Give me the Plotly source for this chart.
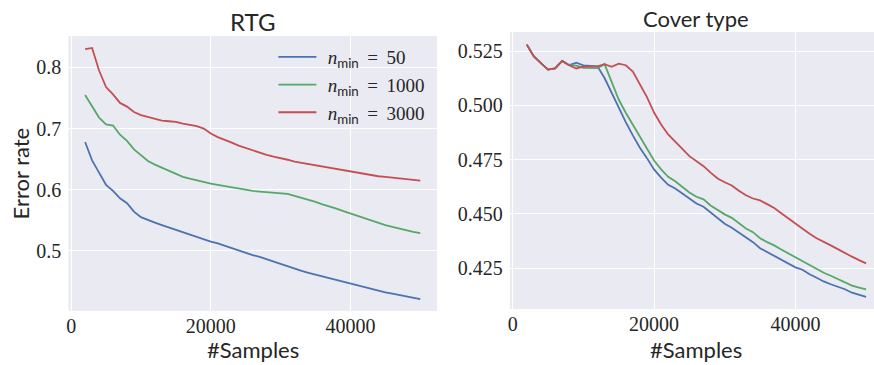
import plotly.graph_objects as go

# Sample counts shared by every curve
samples = list(range(2000, 50001, 1000))

# RTG error rates for each n_min setting
rtg_n50 = [0.678, 0.648, 0.628, 0.608, 0.598, 0.586, 0.578, 0.564, 0.555, 0.550,
           0.546, 0.542, 0.538, 0.534, 0.530, 0.526, 0.522, 0.519, 0.515, 0.512,
           0.508, 0.504, 0.501, 0.497, 0.493, 0.490, 0.486, 0.482, 0.478, 0.474,
           0.470, 0.467, 0.464, 0.461, 0.458, 0.455, 0.452, 0.449, 0.446, 0.443,
           0.440, 0.437, 0.434, 0.432, 0.430, 0.428, 0.426, 0.424, 0.421]
rtg_n1000 = [0.755, 0.736, 0.718, 0.707, 0.705, 0.690, 0.680, 0.666, 0.656, 0.647,
             0.641, 0.636, 0.631, 0.627, 0.621, 0.618, 0.615, 0.612, 0.610, 0.608,
             0.606, 0.603, 0.602, 0.600, 0.598, 0.597, 0.596, 0.596, 0.595, 0.593,
             0.590, 0.587, 0.583, 0.580, 0.576, 0.573, 0.569, 0.565, 0.561, 0.557,
             0.553, 0.549, 0.546, 0.542, 0.539, 0.536, 0.534, 0.531, 0.529]
rtg_n3000 = [0.830, 0.832, 0.795, 0.768, 0.756, 0.742, 0.736, 0.727, 0.722, 0.719,
             0.716, 0.713, 0.712, 0.711, 0.708, 0.706, 0.704, 0.700, 0.692, 0.686,
             0.682, 0.677, 0.672, 0.668, 0.664, 0.660, 0.657, 0.654, 0.652, 0.649,
             0.646, 0.644, 0.641, 0.640, 0.638, 0.636, 0.634, 0.632, 0.630, 0.627,
             0.625, 0.624, 0.622, 0.621, 0.620, 0.618, 0.617, 0.616, 0.615]

# Cover type error rates for each n_min setting
cov_n50 = [0.5280, 0.5225, 0.5195, 0.5165, 0.5170, 0.5205, 0.5185, 0.5197, 0.5184, 0.5182,
           0.5180, 0.5126, 0.5058, 0.4989, 0.4923, 0.4862, 0.4805, 0.4757, 0.4705, 0.4667,
           0.4634, 0.4617, 0.4594, 0.4570, 0.4548, 0.4533, 0.4508, 0.4482, 0.4455, 0.4436,
           0.4415, 0.4390, 0.4370, 0.4342, 0.4324, 0.4305, 0.4287, 0.4270, 0.4254, 0.4243,
           0.4222, 0.4206, 0.4189, 0.4176, 0.4166, 0.4153, 0.4137, 0.4129, 0.4118]
cov_n1000 = [0.5280, 0.5225, 0.5195, 0.5165, 0.5170, 0.5205, 0.5185, 0.5183, 0.5173, 0.5172,
             0.5172, 0.5190, 0.5112, 0.5027, 0.4966, 0.4912, 0.4855, 0.4803, 0.4746, 0.4705,
             0.4671, 0.4650, 0.4625, 0.4599, 0.4579, 0.4567, 0.4539, 0.4517, 0.4498, 0.4482,
             0.4456, 0.4433, 0.4416, 0.4388, 0.4370, 0.4355, 0.4336, 0.4318, 0.4298, 0.4282,
             0.4262, 0.4244, 0.4229, 0.4215, 0.4201, 0.4186, 0.4170, 0.4161, 0.4152]
cov_n3000 = [0.5280, 0.5225, 0.5195, 0.5165, 0.5170, 0.5205, 0.5185, 0.5170, 0.5178, 0.5178,
             0.5180, 0.5190, 0.5178, 0.5192, 0.5185, 0.5156, 0.5097, 0.5038, 0.4967, 0.4912,
             0.4866, 0.4835, 0.4800, 0.4766, 0.4743, 0.4720, 0.4690, 0.4663, 0.4646, 0.4631,
             0.4607, 0.4586, 0.4571, 0.4562, 0.4545, 0.4527, 0.4503, 0.4479, 0.4455, 0.4434,
             0.4409, 0.4388, 0.4370, 0.4355, 0.4338, 0.4319, 0.4303, 0.4287, 0.4272]

series_names = ["50", "1000", "3000"]
colors = ["#4C72B0", "#55A868", "#C44E52"]

x_ticks = [0, 20000, 40000]
rtg_y_ticks = [0.5, 0.6, 0.7, 0.8]
cov_y_ticks = [0.425, 0.450, 0.475, 0.500, 0.525]

SERIF = "Liberation Serif, DejaVu Serif, serif"
SANS = "Lato, Open Sans, sans-serif"
W, H = 874, 365


def px_x(p):
    return p / W


def px_y(p):
    return 1 - p / H


def legend_label(n):
    return (f'&#8196;<i>n</i><sub><span style="font-family:Lato">min</span></sub>'
            f'&#8201;&#8197;=&#8201;&#8197;{n}')


fig = go.Figure()

for name, ys, col in zip(series_names, [rtg_n50, rtg_n1000, rtg_n3000], colors):
    fig.add_trace(go.Scatter(x=samples, y=ys, mode="lines", name=legend_label(name),
                             line=dict(color=col, width=1.8), xaxis="x", yaxis="y"))
for name, ys, col in zip(series_names, [cov_n50, cov_n1000, cov_n3000], colors):
    fig.add_trace(go.Scatter(x=samples, y=ys, mode="lines", name=legend_label(name),
                             line=dict(color=col, width=1.8), xaxis="x2", yaxis="y2",
                             showlegend=False))

axis_common = dict(showgrid=True, gridcolor="white", gridwidth=1.3, zeroline=False,
                   showline=False, ticks="",
                   tickfont=dict(family=SERIF, size=20, color="#262626"))

fig.update_layout(
    width=W, height=H,
    margin=dict(l=0, r=0, t=0, b=0),
    paper_bgcolor="white",
    plot_bgcolor="#EAEAF2",
    showlegend=True,
    legend=dict(x=px_x(272), y=px_y(38), xanchor="left", yanchor="top",
                bgcolor="rgba(0,0,0,0)", borderwidth=0,
                font=dict(family=SERIF, size=19, color="#262626"),
                itemwidth=38),
    xaxis=dict(domain=[px_x(66.5), px_x(436)], range=[-400, 52400],
               tickvals=x_ticks, ticktext=[str(v) for v in x_ticks],
               ticklabelstandoff=1, anchor="y", **axis_common),
    yaxis=dict(domain=[px_y(311), px_y(36)], range=[0.4015, 0.8515],
               tickvals=rtg_y_ticks, ticktext=[f"{v:.1f}" for v in rtg_y_ticks],
               ticklabelstandoff=6, anchor="x", **axis_common),
    xaxis2=dict(domain=[px_x(509), 1.0], range=[-400, 51117],
                tickvals=x_ticks, ticktext=[str(v) for v in x_ticks],
                ticklabelstandoff=1, anchor="y2", **axis_common),
    yaxis2=dict(domain=[px_y(309), px_y(32)], range=[0.4062, 0.5338],
                tickvals=cov_y_ticks, ticktext=[f"{v:.3f}" for v in cov_y_ticks],
                ticklabelstandoff=6, anchor="x2", **axis_common),
)

text_font = dict(family=SANS, size=22, color="#262626")
annotations = [
    dict(text="RTG", x=(66.5 + 436) / 2 / W, y=px_y(22), xanchor="center", yanchor="middle",
         font=dict(family=SANS, size=24, color="#262626")),
    dict(text="Cover type", x=696 / W, y=px_y(18), xanchor="center", yanchor="middle"),
    dict(text="#Samples", x=(66.5 + 436) / 2 / W, y=px_y(349), xanchor="center", yanchor="middle"),
    dict(text="#Samples", x=696 / W, y=px_y(349), xanchor="center", yanchor="middle"),
    dict(text="Error rate", x=px_x(19), y=px_y(173.5), xanchor="center", yanchor="middle",
         textangle=-90),
]
for a in annotations:
    a.setdefault("font", text_font)
    fig.add_annotation(xref="paper", yref="paper", showarrow=False, **a)

fig.write_html("out.html")
